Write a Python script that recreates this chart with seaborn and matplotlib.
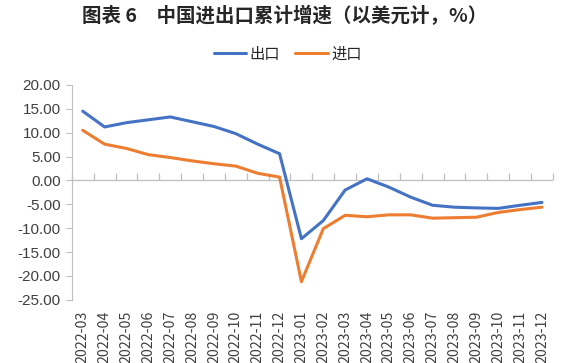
import matplotlib
matplotlib.use("Agg")
import matplotlib.pyplot as plt
import seaborn as sns
import pandas as pd

months = ["2022-03", "2022-04", "2022-05", "2022-06", "2022-07", "2022-08",
          "2022-09", "2022-10", "2022-11", "2022-12", "2023-01", "2023-02",
          "2023-03", "2023-04", "2023-05", "2023-06", "2023-07", "2023-08",
          "2023-09", "2023-10", "2023-11", "2023-12"]
exports = [14.5, 11.2, 12.1, 12.7, 13.3, 12.3, 11.3, 9.8, 7.6, 5.6, -12.2, -8.4,
           -2.0, 0.35, -1.4, -3.5, -5.2, -5.6, -5.75, -5.85, -5.2, -4.6]
imports = [10.5, 7.6, 6.7, 5.4, 4.8, 4.1, 3.5, 3.0, 1.5, 0.7, -21.2, -10.1,
           -7.3, -7.6, -7.2, -7.2, -7.9, -7.8, -7.7, -6.7, -6.1, -5.6]

df = pd.DataFrame({
    "month": months * 2,
    "value": exports + imports,
    "series": ["出口"] * len(months) + ["进口"] * len(months),
})

sns.set_style("white")
plt.rcParams["font.family"] = ["Noto Sans CJK SC", "DejaVu Sans"]

fig = plt.figure(figsize=(5.7, 3.63), dpi=100)
ax = fig.add_axes([0.126, 0.174, 0.844, 0.592])

grey = "#BFBFBF"
ax.axhline(0, color=grey, linewidth=0.9, zorder=1)

sns.lineplot(data=df, x="month", y="value", hue="series", sort=False,
             palette=["#4472C4", "#ED7D31"], linewidth=2.2, ax=ax, zorder=3)

ax.set_xlim(-0.5, len(months) - 0.5)
ax.set_ylim(-25, 20)
ax.set_yticks(range(-25, 21, 5))
ax.set_yticklabels([f"{v:.2f}" for v in range(-25, 21, 5)],
                   family=["Liberation Sans", "DejaVu Sans"], fontsize=11, color="#404040")
ax.tick_params(axis="y", length=4, color=grey, width=0.8, pad=4, left=True)

ax.set_xticks(range(len(months)))
ax.set_xticklabels(months, rotation=90, fontsize=10.2, color="#404040")
ax.tick_params(axis="x", length=0, pad=8)

for s in ["top", "right", "bottom"]:
    ax.spines[s].set_visible(False)
ax.spines["left"].set_color(grey)
ax.spines["left"].set_linewidth(0.8)

# category boundary ticks on the zero line
sec = ax.secondary_xaxis(25 / 45)
sec.set_xticks([i - 0.5 for i in range(len(months) + 1)])
sec.set_xticklabels([])
sec.tick_params(length=5, color=grey, width=0.9, direction="out")
for s in sec.spines.values():
    s.set_visible(False)

ax.set_xlabel("")
ax.set_ylabel("")

handles, labels = ax.get_legend_handles_labels()
ax.legend_.remove()
fig.legend(handles, labels, loc="center", bbox_to_anchor=(0.505, 0.851),
           bbox_transform=fig.transFigure, ncol=2, frameon=False,
           fontsize=11, handlelength=2.1, columnspacing=1.0, handletextpad=0.25)

fig.text(0.5, 0.955, "图表 6\u3000中国进出口累计增速（以美元计，%）", ha="center", va="center",
         fontsize=14, fontweight="bold", color="#262626")

fig.savefig("out.png", dpi=100)
